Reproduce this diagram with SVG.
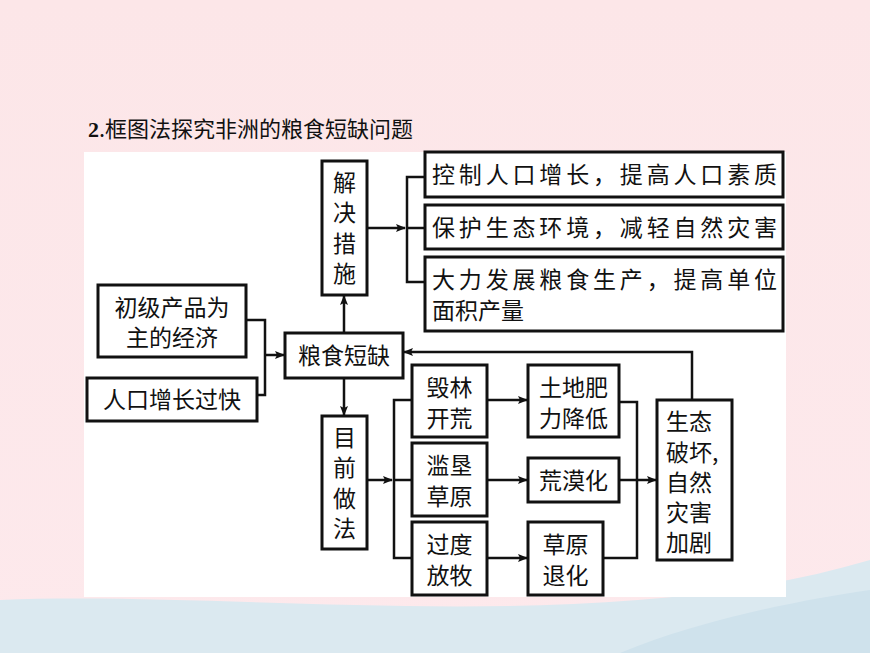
<svg xmlns="http://www.w3.org/2000/svg" width="870" height="653" viewBox="0 0 870 653">
<defs>
<linearGradient id="bg" x1="0" y1="0" x2="0" y2="1"><stop offset="0" stop-color="#fce6e8"/><stop offset="1" stop-color="#fde9ec"/></linearGradient>
<marker id="ar" markerWidth="10" markerHeight="8" refX="9" refY="4" orient="auto" markerUnits="userSpaceOnUse"><path d="M0,0 L10,4 L0,8 L2,4 Z" fill="#111"/></marker>
<style>
.b{fill:#fff;stroke:#111;stroke-width:3}
.t{font-family:"Noto Sans CJK SC","Noto Sans",sans-serif;font-size:23px;fill:#111}
.m{text-anchor:middle}
.c{fill:none;stroke:#111;stroke-width:2.5}
</style>
</defs>
<rect width="870" height="653" fill="url(#bg)"/>
<path d="M0,600 C250,590 600,640 870,560 L870,653 L0,653 Z" fill="#dbe9f0"/>
<path d="M620,653 C700,620 800,600 870,590 L870,653 Z" fill="#cfe2ec"/>
<rect x="84" y="152" width="702" height="445" fill="#fff"/>
<text x="88" y="137" style="font-family:'Noto Sans CJK SC',sans-serif;font-size:22px;fill:#111"><tspan font-weight="bold" font-family="Liberation Serif">2</tspan>.框图法探究非洲的粮食短缺问题</text>
<g id="connectors">
<polyline class="c" points="246,320 265,320 265,395 257,395"/>
<line class="c" x1="265" y1="355" x2="284" y2="355" marker-end="url(#ar)"/>
<line class="c" x1="344" y1="333" x2="344" y2="296" marker-end="url(#ar)"/>
<line class="c" x1="344" y1="378" x2="344" y2="415" marker-end="url(#ar)"/>
<line class="c" x1="367" y1="228" x2="405" y2="228" marker-end="url(#ar)"/>
<polyline class="c" points="425,177 407,177 407,282 425,282"/>
<line class="c" x1="407" y1="228" x2="425" y2="228"/>
<line class="c" x1="367" y1="480" x2="392" y2="480" marker-end="url(#ar)"/>
<polyline class="c" points="412,400 394,400 394,558 412,558"/>
<line class="c" x1="394" y1="480" x2="412" y2="480"/>
<line class="c" x1="487" y1="400" x2="527" y2="400" marker-end="url(#ar)"/>
<line class="c" x1="487" y1="480" x2="527" y2="480" marker-end="url(#ar)"/>
<line class="c" x1="487" y1="558" x2="527" y2="558" marker-end="url(#ar)"/>
<polyline class="c" points="619,402 637,402 637,558 603,558"/>
<line class="c" x1="619" y1="480" x2="656" y2="480" marker-end="url(#ar)"/>
<polyline class="c" points="692,400 692,352 404,352" marker-end="url(#ar)"/>
</g>
<g id="jjcs"><rect class="b" x="322" y="161" width="45" height="134"/><text class="t m"><tspan x="344.5" y="191">解</tspan><tspan x="344.5" y="221">决</tspan><tspan x="344.5" y="252">措</tspan><tspan x="344.5" y="282">施</tspan></text></g>
<g id="cjcp"><rect class="b" x="98" y="285" width="148" height="72"/><text class="t m" x="172" y="316">初级产品为</text><text class="t m" x="172" y="346">主的经济</text></g>
<g id="rkzz"><rect class="b" x="87" y="378" width="170" height="43"/><text class="t m" x="172" y="408">人口增长过快</text></g>
<g id="lsdq"><rect class="b" x="285" y="333" width="118" height="45"/><text class="t m" x="344" y="364">粮食短缺</text></g>
<g id="mqzf"><rect class="b" x="322" y="416" width="45" height="133"/><text class="t m"><tspan x="344.5" y="446">目</tspan><tspan x="344.5" y="476">前</tspan><tspan x="344.5" y="507">做</tspan><tspan x="344.5" y="537">法</tspan></text></g>
<g id="kz"><rect class="b" x="425" y="152" width="358" height="45"/><text class="t" x="432" y="183" textLength="345">控制人口增长，提高人口素质</text></g>
<g id="bh"><rect class="b" x="425" y="205" width="358" height="44"/><text class="t" x="432" y="236" textLength="345">保护生态环境，减轻自然灾害</text></g>
<g id="dl"><rect class="b" x="425" y="257" width="358" height="74"/><text class="t" x="432" y="288" textLength="345">大力发展粮食生产，提高单位</text><text class="t" x="432" y="319">面积产量</text></g>
<g id="hl"><rect class="b" x="412" y="365" width="75" height="72"/><text class="t m" x="449.5" y="396">毁林</text><text class="t m" x="449.5" y="427">开荒</text></g>
<g id="lk"><rect class="b" x="412" y="443" width="75" height="73"/><text class="t m" x="449.5" y="474">滥垦</text><text class="t m" x="449.5" y="505">草原</text></g>
<g id="gd"><rect class="b" x="412" y="522" width="75" height="73"/><text class="t m" x="449.5" y="553">过度</text><text class="t m" x="449.5" y="584">放牧</text></g>
<g id="td"><rect class="b" x="528" y="365" width="91" height="72"/><text class="t m" x="573.5" y="396">土地肥</text><text class="t m" x="573.5" y="427">力降低</text></g>
<g id="hmh"><rect class="b" x="528" y="458" width="91" height="44"/><text class="t m" x="573.5" y="489">荒漠化</text></g>
<g id="cyth"><rect class="b" x="528" y="522" width="75" height="73"/><text class="t m" x="565.5" y="553">草原</text><text class="t m" x="565.5" y="584">退化</text></g>
<g id="stph"><rect class="b" x="657" y="400" width="75" height="160"/><text class="t"><tspan x="666" y="430">生态</tspan><tspan x="666" y="461">破坏,</tspan><tspan x="666" y="491">自然</tspan><tspan x="666" y="521">灾害</tspan><tspan x="666" y="551">加剧</tspan></text></g>
</svg>
